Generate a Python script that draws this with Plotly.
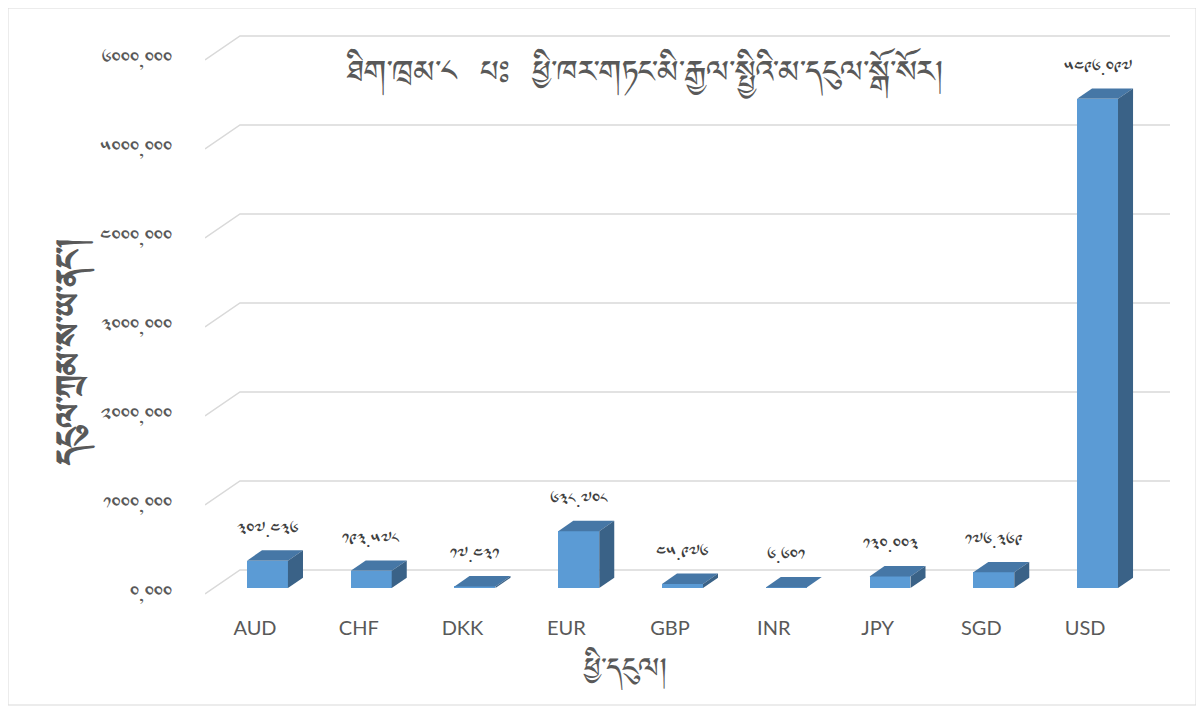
import plotly.graph_objects as go

# ---- data ----
categories = ["AUD", "CHF", "DKK", "EUR", "GBP", "INR", "JPY", "SGD", "USD"]
values = [307.436, 193.578, 17.431, 638.708, 45.976, 6.601, 130.003, 176.369, 5496.097]
y_ticks = [0, 1000, 2000, 3000, 4000, 5000, 6000]
title_text = "ཐིག་ཁྲམ་༨  པཿ  ཕྱི་ཁར་གཏང་མི་རྒྱལ་སྤྱིའི་མ་དངུལ་སྒོ་སོར།"
x_title = "ཕྱི་དངུལ།"
y_title = "དངུལ་ཀྲམ་ས་ཡ་ནང་།"

TIB = str.maketrans("0123456789", "༠༡༢༣༤༥༦༧༨༩")
def tib(s):
    return s.translate(TIB)

# ---- geometry / style ----
OFF = 8                      # page body margin
W, H = 1204 - OFF, 708 - OFF
L, T = 205 - OFF, 20 - OFF
PR, PB = 1180 - OFF, 600 - OFF
R, B = W - PR, H - PB
PW, PH = PR - L, PB - T
XR = [-0.602, 8.795]
YR = [-67.4, 6449.4]
DX, DY = 0.337, 270.0          # wall depth offset in data units
D0, D1 = 0.25, 0.68            # bar front/back depth fraction
BW = 0.395                      # bar width
FRONT = "#5B9BD5"
TOP = "#4677A6"
SIDE = "#3A6287"
GRID = "#D9D9D9"
TXT = "#595959"
TIBFONT = "Noto Sans Tibetan, Jomolhari, Microsoft Himalaya, sans-serif"

def px2paper(px, py):
    return (px - OFF - L) / PW, (PB - (py - OFF)) / PH

fig = go.Figure()

xs = list(range(len(categories)))
base = D0 * DY
fig.add_trace(go.Bar(x=xs, y=values, base=[base] * len(values), width=BW,
                     marker=dict(color=FRONT, line=dict(width=0)),
                     hoverinfo="skip", showlegend=False))

ddx, ddy = (D1 - D0) * DX, (D1 - D0) * DY
for i, v in zip(xs, values):
    top = base + v
    x0, x1 = i - BW / 2, i + BW / 2
    fig.add_trace(go.Scatter(
        x=[x0, x1, x1 + ddx, x0 + ddx, x0],
        y=[top, top, top + ddy, top + ddy, top],
        fill="toself", fillcolor=TOP, mode="lines", line=dict(width=0, color=TOP),
        hoverinfo="skip", showlegend=False))
    fig.add_trace(go.Scatter(
        x=[x1, x1 + ddx, x1 + ddx, x1, x1],
        y=[base, base + ddy, top + ddy, top, base],
        fill="toself", fillcolor=SIDE, mode="lines", line=dict(width=0, color=SIDE),
        hoverinfo="skip", showlegend=False))
    fig.add_annotation(x=i, y=top, text=tib(f"{v:.3f}"), showarrow=False,
                       yanchor="bottom", yshift=15,
                       font=dict(family=TIBFONT, size=18, color="#404040"))

shapes = []
xl = XR[0]
xr = 8.699
for t in y_ticks:
    shapes.append(dict(type="path", xref="x", yref="y", layer="below",
                       path=f"M {xl},{t} L {xl + DX},{t + DY} L {xr},{t + DY}",
                       line=dict(color=GRID, width=1.5)))
bx0, by0 = px2paper(8, 8)
bx1, by1 = px2paper(1196, 705)
shapes.append(dict(type="rect", xref="paper", yref="paper", x0=bx0, y0=by1, x1=bx1, y1=by0,
                   line=dict(color=GRID, width=1), layer="below"))

tx, ty = px2paper(645, 74)
fig.add_annotation(xref="paper", yref="paper", x=tx, y=ty, text=title_text, showarrow=False,
                   xanchor="center", yanchor="middle",
                   font=dict(family=TIBFONT, size=39, color=TXT))
ax_, ay_ = px2paper(625, 670)
fig.add_annotation(xref="paper", yref="paper", x=ax_, y=ay_, text=x_title, showarrow=False,
                   xanchor="center", yanchor="middle",
                   font=dict(family=TIBFONT, size=36, color=TXT))
yx, yy = px2paper(70, 352)
fig.add_annotation(xref="paper", yref="paper", x=yx, y=yy, text="<b>" + y_title + "</b>",
                   showarrow=False, textangle=-90, xanchor="center", yanchor="middle",
                   font=dict(family=TIBFONT, size=42, color=TXT))

fig.update_layout(
    width=W, height=H,
    margin=dict(l=L, r=R, t=T, b=B),
    paper_bgcolor="white", plot_bgcolor="white",
    shapes=shapes,
    bargap=0,
    xaxis=dict(range=XR, tickmode="array",
               tickvals=[i - 0.12 for i in xs], ticktext=categories,
               showgrid=False, zeroline=False, showline=False, ticks="",
               tickfont=dict(family="Lato, sans-serif", size=20, color=TXT),
               ticklabelstandoff=14),
    yaxis=dict(range=YR, tickmode="array", tickvals=y_ticks,
               ticktext=[tib(f"{t:.3f}".replace(".", ",")) for t in y_ticks],
               showgrid=False, zeroline=False, showline=False, ticks="",
               tickfont=dict(family=TIBFONT, size=20, color=TXT),
               ticklabelstandoff=32),
)

fig.write_html("out.html")
